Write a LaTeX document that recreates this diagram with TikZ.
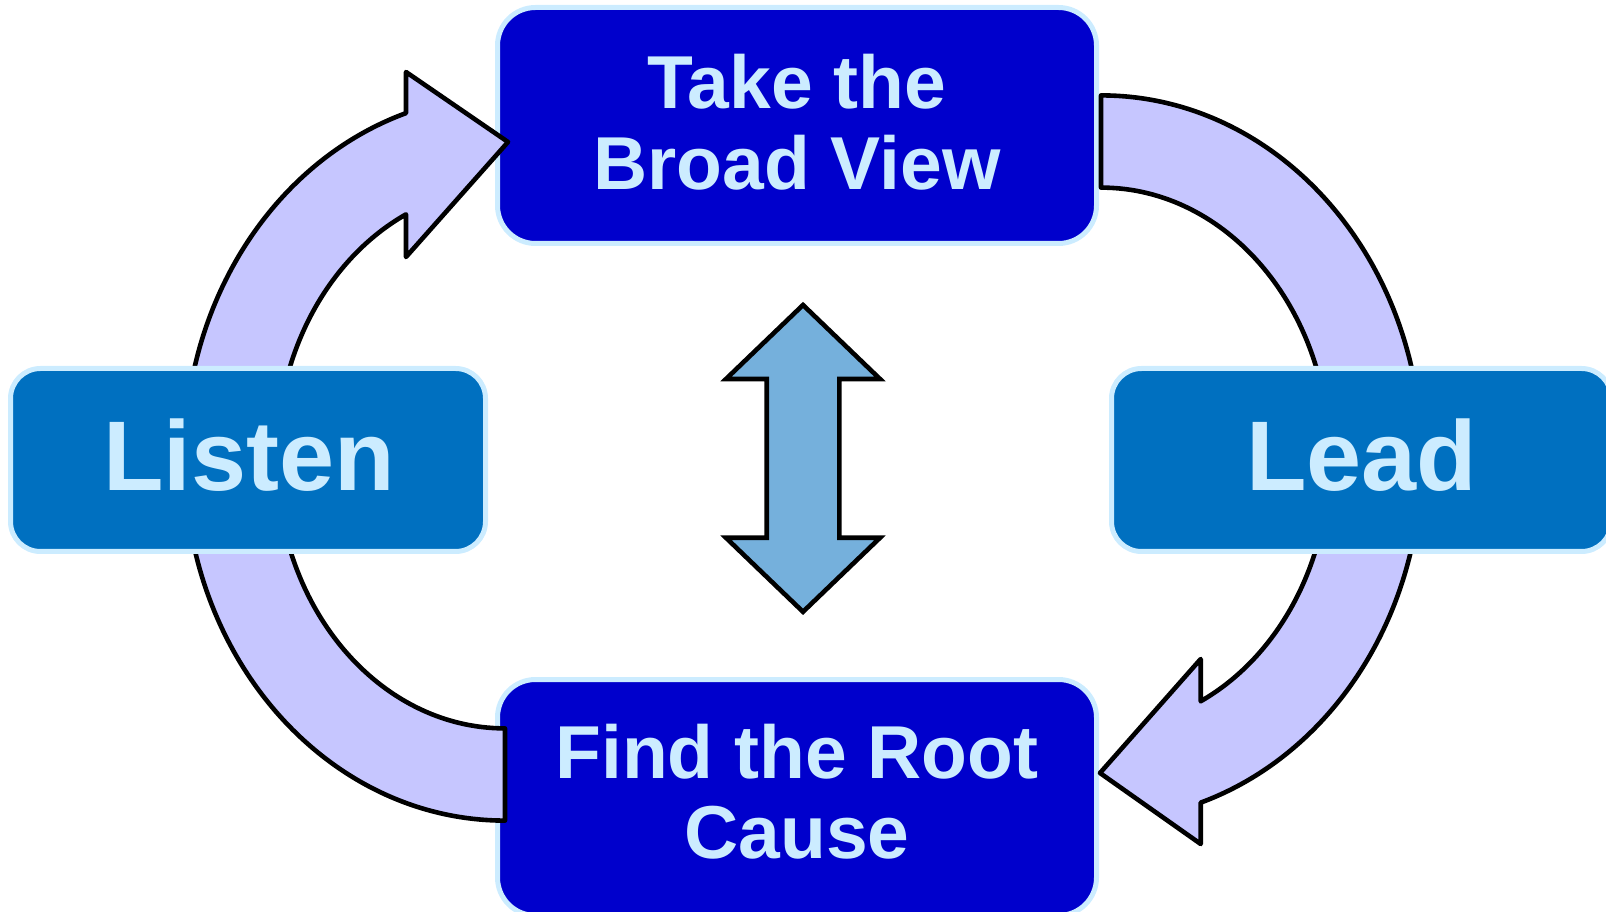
\documentclass[tikz,border=0pt]{standalone}
\usepackage{fontspec}
\setmainfont{Liberation Sans}
\definecolor{boxdark}{HTML}{0000CC}
\definecolor{boxmid}{HTML}{0070C0}
\definecolor{paleblue}{HTML}{CCECFF}
\definecolor{lavender}{HTML}{C6C6FF}
\definecolor{skyfill}{HTML}{75B0DC}
\begin{document}
\begin{tikzpicture}[x=1pt,y=1pt,
  stepbox/.style={rectangle, draw=paleblue, line width=5pt, inner sep=0pt},
  mainbox/.style={stepbox, fill=boxdark, rounded corners=38pt,
                  minimum width=599pt, minimum height=236pt},
  sidebox/.style={stepbox, fill=boxmid, rounded corners=30pt, minimum height=183pt},
  lbl/.style={text=paleblue, inner sep=0pt, anchor=base,
              font=\fontsize{75}{80}\bfseries\selectfont},
  biglbl/.style={lbl, font=\fontsize{99}{104}\bfseries\selectfont},
  ringarrow/.style={fill=lavender, draw=black, line width=4.6pt, line join=round},
  updown/.style={fill=skyfill, draw=black, line width=4.6pt, line join=miter},
]
\useasboundingbox (0,0) rectangle (1606,911);
\clip (0,0) rectangle (1606,911);

% top and bottom boxes
\node[mainbox] (top) at (797,785.5) {};
\node[mainbox] (bottom) at (797,113.5) {};

% curved arrows of the cycle (elliptic quarter rings)
\begin{scope}[shift={(505,453)}]
  % Listen -> Take the Broad View
  \filldraw[ringarrow] (180:228.4 and 270.4)
    arc[start angle=180, end angle=115.69, x radius=228.4, y radius=270.4]
    -- (-99,201) -- (3,316) -- (-99,386)
    -- (107.99:320.6 and 362.6)
    arc[start angle=107.99, end angle=180, x radius=320.6, y radius=362.6]
    -- cycle;
  % Find the Root Cause -> Listen
  \filldraw[ringarrow] (180:228.4 and 270.4)
    arc[start angle=180, end angle=270, x radius=228.4, y radius=270.4]
    -- (270:320.6 and 362.6)
    arc[start angle=270, end angle=180, x radius=320.6, y radius=362.6]
    -- cycle;
\end{scope}
\begin{scope}[shift={(1101,453)}]
  % Take the Broad View -> Lead
  \filldraw[ringarrow] (90:228.4 and 270.4)
    arc[start angle=90, end angle=0, x radius=228.4, y radius=270.4]
    -- (0:320.6 and 362.6)
    arc[start angle=0, end angle=90, x radius=320.6, y radius=362.6]
    -- cycle;
  % Lead -> Find the Root Cause
  \filldraw[ringarrow] (0:228.4 and 270.4)
    arc[start angle=0, end angle=-64.12, x radius=228.4, y radius=270.4]
    -- (99.7,-201) -- (-1,-315) -- (99.7,-386)
    -- (-71.88:320.6 and 362.6)
    arc[start angle=-71.88, end angle=0, x radius=320.6, y radius=362.6]
    -- cycle;
\end{scope}

% side boxes
\node[sidebox, minimum width=475pt] (listen) at (248,451) {};
\node[sidebox, minimum width=500pt] (lead) at (1361.5,451) {};

% central double-headed arrow
\filldraw[updown] (803,606) -- (880,532) -- (839.3,532) -- (839.3,373.2)
  -- (880,373.2) -- (803,299.2) -- (726,373.2) -- (766.7,373.2)
  -- (766.7,532) -- (726,532) -- cycle;

% labels
\node[lbl] (topA) at (797,802.4) {Take the};
\node[lbl] (topB) at (797,721.5) {Broad View};
\node[lbl] (botA) at (797,132.6) {Find the Root};
\node[lbl] (botB) at (797,52.7) {Cause};
\node[biglbl] (listenT) at (248.8,420.3) {Listen};
\node[biglbl] (leadT) at (1361.7,420.3) {Lead};
\end{tikzpicture}
\end{document}
